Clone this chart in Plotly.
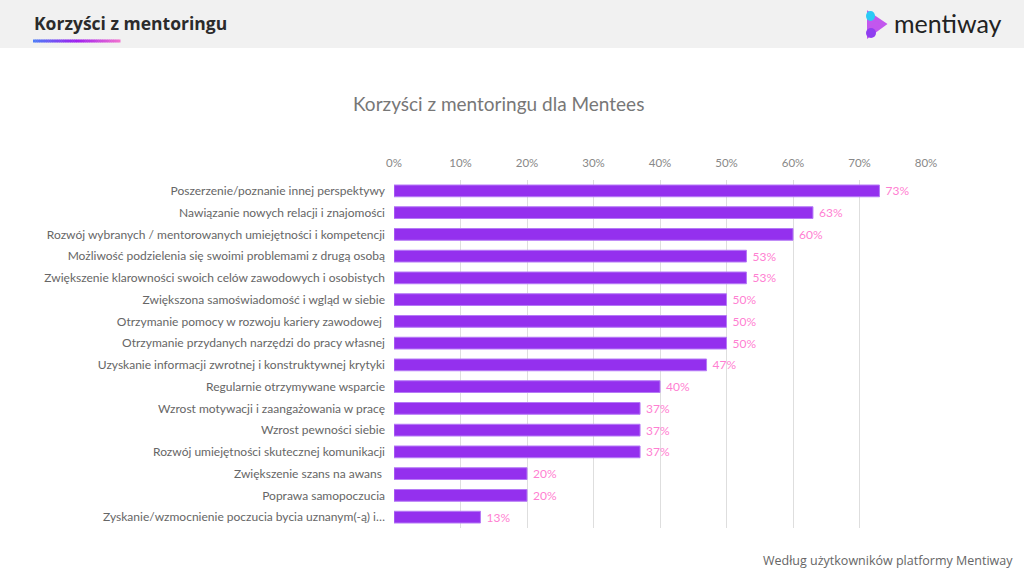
import plotly.graph_objects as go

categories = [
    "Poszerzenie/poznanie innej perspektywy",
    "Nawiązanie nowych relacji i znajomości",
    "Rozwój wybranych / mentorowanych umiejętności i kompetencji",
    "Możliwość podzielenia się swoimi problemami z drugą osobą",
    "Zwiększenie klarowności swoich celów zawodowych i osobistych",
    "Zwiększona samoświadomość i wgląd w siebie",
    "Otrzymanie pomocy w rozwoju kariery zawodowej ",
    "Otrzymanie przydanych narzędzi do pracy własnej",
    "Uzyskanie informacji zwrotnej i konstruktywnej krytyki",
    "Regularnie otrzymywane wsparcie",
    "Wzrost motywacji i zaangażowania w pracę",
    "Wzrost pewności siebie",
    "Rozwój umiejętności skutecznej komunikacji",
    "Zwiększenie szans na awans ",
    "Poprawa samopoczucia",
    "Zyskanie/wzmocnienie poczucia bycia uznanym(-ą) i…",
]
values = [73, 63, 60, 53, 53, 50, 50, 50, 47, 40, 37, 37, 37, 20, 20, 13]
tick_vals = [0, 10, 20, 30, 40, 50, 60, 70, 80]
tick_text = ["0%", "10%", "20%", "30%", "40%", "50%", "60%", "70%", "80%"]

W, H = 1024, 576
L, R, T, B = 394, 98, 180, 48
PW, PH = W - L - R, H - T - B


def px(x):
    return (x - L) / PW


def py(y):
    return (H - B - y) / PH


fig = go.Figure()
fig.add_trace(go.Bar(
    y=categories,
    x=[v / 100 for v in values],
    orientation="h",
    width=0.54,
    marker=dict(color="#9430ee", line=dict(color="#b57af6", width=1)),
    text=[f" {v}%" for v in values],
    textposition="outside",
    constraintext="none",
    textfont=dict(color="#ff7fd2", size=12, family="Lato"),
    cliponaxis=False,
    hoverinfo="skip",
))

shapes = []
# header band
shapes.append(dict(type="rect", xref="paper", yref="paper", x0=px(0), x1=px(W),
                   y0=py(48), y1=py(0), fillcolor="#f1f1f1", line_width=0, layer="below"))
# gradient underline
stops = [(0.0, (79, 124, 247)), (0.5, (160, 32, 240)), (1.0, (240, 112, 208))]


def grad(t):
    for i in range(len(stops) - 1):
        a, ca = stops[i]
        b, cb = stops[i + 1]
        if a <= t <= b:
            f = (t - a) / (b - a)
            return "rgb(%d,%d,%d)" % tuple(int(ca[k] + (cb[k] - ca[k]) * f) for k in range(3))
    return "rgb(240,112,208)"


N = 40
x_start, x_end = 33, 120
for i in range(N):
    xa = x_start + (x_end - x_start) * i / N
    xb = x_start + (x_end - x_start) * (i + 1) / N + 0.5
    shapes.append(dict(type="rect", xref="paper", yref="paper", x0=px(xa), x1=px(xb),
                       y0=py(42.5), y1=py(39.5), fillcolor=grad(i / (N - 1)), line_width=0))
# logo icon
shapes.append(dict(type="path", xref="paper", yref="paper",
                   path=f"M {px(869)},{py(14)} L {px(884)},{py(24)} L {px(869)},{py(35)} Z",
                   fillcolor="#c257ee", line=dict(color="#c257ee", width=4)))
shapes.append(dict(type="circle", xref="paper", yref="paper", x0=px(866), x1=px(875),
                   y0=py(21), y1=py(11), fillcolor="#2ccaf5", line_width=0))
shapes.append(dict(type="circle", xref="paper", yref="paper", x0=px(866), x1=px(876),
                   y0=py(38), y1=py(28), fillcolor="#8f3ef0", line_width=0))

annotations = [
    dict(text="<b>Korzyści z mentoringu</b>", x=px(32), y=py(23), xref="paper", yref="paper",
         xanchor="left", yanchor="middle", showarrow=False,
         font=dict(family="Open Sans", size=17.5, color="#2b2b2b")),
    dict(text="mentiway", x=px(892), y=py(23), xref="paper", yref="paper",
         xanchor="left", yanchor="middle", showarrow=False,
         font=dict(family="Lato", size=25, color="#222222")),
    dict(text="Korzyści z mentoringu dla Mentees", x=px(498), y=py(104), xref="paper", yref="paper",
         xanchor="center", yanchor="middle", showarrow=False,
         font=dict(family="Lato", size=19, color="#777777")),
    dict(text="Według użytkowników platformy Mentiway", x=px(1015), y=py(560), xref="paper", yref="paper",
         xanchor="right", yanchor="middle", showarrow=False,
         font=dict(family="Open Sans", size=12.5, color="#666666")),
]

fig.update_layout(
    width=W, height=H,
    margin=dict(l=L, r=R, t=T, b=B, pad=0),
    paper_bgcolor="white", plot_bgcolor="white",
    showlegend=False,
    bargap=0.46,
    shapes=shapes,
    annotations=annotations,
    font=dict(family="Lato", color="#666666"),
    xaxis=dict(
        side="top", range=[0, 0.8], tickvals=[v / 100 for v in tick_vals], ticktext=tick_text,
        showgrid=True, gridcolor="#dedede", gridwidth=1, zeroline=False,
        showline=False, ticks="", tickfont=dict(size=11.5, color="#888888", family="Lato"),
        ticklabelstandoff=10, fixedrange=True,
    ),
    yaxis=dict(
        autorange="reversed", showgrid=False, showline=False, ticks="",
        tickfont=dict(size=12, color="#666666", family="Lato"),
        ticklabelstandoff=8, fixedrange=True,
    ),
)

fig.write_html("out.html", config={"displayModeBar": False},
               post_script="document.body.style.margin='0';document.body.style.overflow='hidden';")
